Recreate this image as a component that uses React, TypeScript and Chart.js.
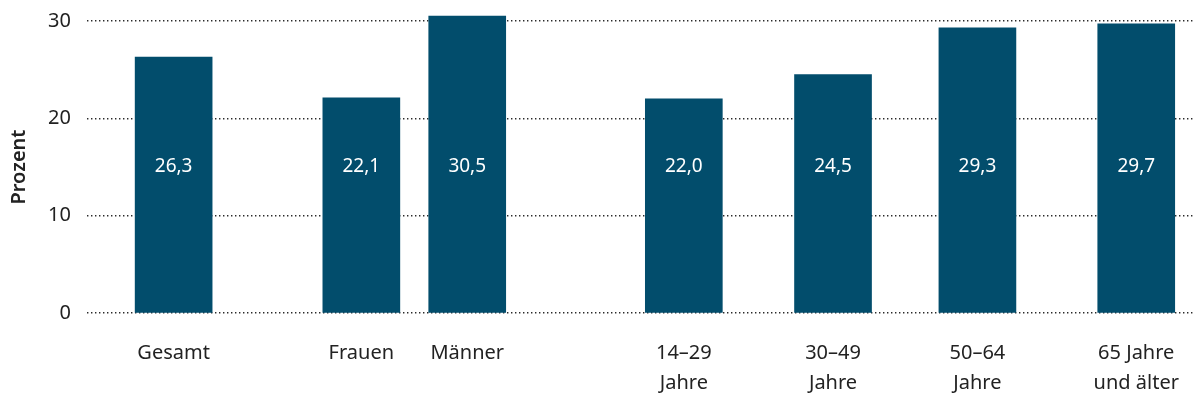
import React, { useEffect, useRef } from "react";
import { Chart, registerables } from "chart.js";

Chart.register(...registerables);

const categories: (string | string[])[] = [
  "Gesamt",
  "Frauen",
  "Männer",
  ["14–29", "Jahre"],
  ["30–49", "Jahre"],
  ["50–64", "Jahre"],
  ["65 Jahre", "und älter"],
];
// group slot positions along the category axis (grouped layout with gaps)
const slots = [0.9, 2.85, 3.95, 6.2, 7.75, 9.25, 10.9];
const values = [26.3, 22.1, 30.5, 22.0, 24.5, 29.3, 29.7];
const yTicks = [0, 10, 20, 30];

const FONT = "'Noto Sans', 'Open Sans', sans-serif";
const BAR = "#024d6c";
const TEXT = "#222222";

const valueLabels = {
  id: "valueLabels",
  afterDatasetsDraw(chart: any) {
    const { ctx, chartArea } = chart;
    const meta = chart.getDatasetMeta(0);
    const yMid = (chartArea.top + chartArea.bottom) / 2;
    ctx.save();
    ctx.fillStyle = "#ffffff";
    ctx.font = `19px ${FONT}`;
    ctx.textAlign = "center";
    ctx.textBaseline = "middle";
    meta.data.forEach((el: any, i: number) => {
      ctx.fillText(values[i].toFixed(1).replace(".", ","), el.x, yMid);
    });
    ctx.restore();
  },
};

export default function App() {
  const ref = useRef<HTMLCanvasElement | null>(null);
  useEffect(() => {
    if (!ref.current) return;
    const chart = new Chart(ref.current, {
      type: "bar",
      data: {
        datasets: [
          {
            data: values.map((v, i) => ({ x: slots[i], y: v })),
            backgroundColor: BAR,
            barThickness: 77,
            clip: false as any,
          },
        ],
      },
      options: {
        animation: false,
        responsive: true,
        maintainAspectRatio: false,
        layout: { padding: { top: 21, bottom: 4, left: 0, right: 0 } },
        plugins: { legend: { display: false }, tooltip: { enabled: false } },
        scales: {
          x: {
            type: "linear",
            min: 0,
            max: 11.5,
            offset: false,
            grid: { display: false, drawTicks: false },
            border: { display: false },
            afterBuildTicks: (axis: any) => {
              axis.ticks = slots.map((v) => ({ value: v }));
            },
            afterFit: (axis: any) => {
              axis.height = 84;
              axis.paddingLeft = 0;
              axis.paddingRight = 0;
            },
            ticks: {
              autoSkip: false,
              maxRotation: 0,
              padding: 25,
              color: TEXT,
              font: { family: FONT, size: 20, lineHeight: 1.5 },
              callback: (_v: any, i: number) => categories[i],
            },
          },
          y: {
            min: 0,
            max: 30,
            afterBuildTicks: (axis: any) => {
              axis.ticks = yTicks.map((v) => ({ value: v }));
            },
            afterFit: (axis: any) => {
              axis.width = 87;
              axis.paddingTop = 0;
              axis.paddingBottom = 0;
            },
            grid: {
              drawTicks: false,
              color: "#2a2a2a",
              lineWidth: 1.4,
            },
            border: { display: false, dash: [1.4, 2.6] },
            ticks: {
              padding: 16,
              color: TEXT,
              font: { family: FONT, size: 20 },
            },
            title: {
              display: true,
              text: "Prozent",
              color: TEXT,
              font: { family: FONT, size: 20, weight: "600" },
              padding: { top: 7, bottom: 8 },
            },
          },
        },
      },
      plugins: [valueLabels],
    });
    return () => chart.destroy();
  }, []);
  return (
    <div style={{ position: "absolute", left: 0, top: 0, width: 1194, height: 401, background: "#fff" }}>
      <canvas ref={ref} />
    </div>
  );
}
